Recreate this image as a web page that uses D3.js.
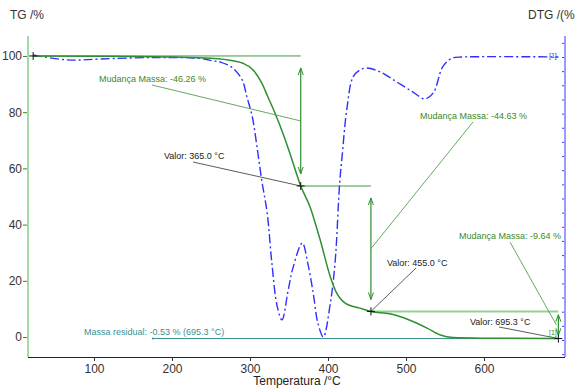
<!DOCTYPE html>
<html>
<head>
<meta charset="utf-8">
<script src="https://cdn.jsdelivr.net/npm/d3@7"></script>
<style>
  body { margin: 0; background: #fff; }
  svg { font-family: "Liberation Sans", Arial, sans-serif; }
</style>
</head>
<body>
<script>
// TG curve (mass %)
var tgTemp = [22, 100, 200, 250, 280, 291, 304, 315, 323, 332, 342, 351, 365, 377, 390, 403, 411, 422, 441, 455, 479, 505, 527, 544, 560, 600, 695.3];
var tgVal  = [100, 99.9, 99.6, 99.2, 98.2, 97.4, 95, 90.4, 85.4, 79.7, 72.6, 65.5, 53.74, 46.3, 34.5, 21.4, 15.7, 12.1, 10.3, 9.11, 8.3, 6, 3.2, 0.7, -0.2, -0.4, -0.53];

// DTG curve (%/min)
var dtgTemp = [22, 56, 76, 108, 176, 236, 253, 262, 278, 290, 296, 303, 309, 315, 322, 328, 335, 341, 349, 355, 367, 374, 381, 387, 394, 403, 409, 415, 418, 424, 432, 441, 450, 467, 488, 509, 524, 535, 547, 559, 573, 695.3];
var dtgVal  = [0.07, -0.08, -0.11, -0.07, -0.02, -0.05, -0.14, -0.18, -0.39, -0.81, -1.41, -2.12, -3.18, -4.35, -5.51, -7.28, -8.83, -9.29, -8.23, -7.46, -6.57, -7.28, -8.34, -9.4, -9.89, -8.69, -7.28, -4.42, -3.53, -1.87, -0.71, -0.46, -0.39, -0.53, -0.88, -1.24, -1.48, -1.27, -0.35, -0.04, 0, 0];

// step evaluation
var stepTemps  = [22, 365, 455, 695.3];
var stepLevels = [100, 53.74, 9.11, -0.53];
var massChanges = ["-46.26", "-44.63", "-9.64"];
var valorTemps = ["365.0", "455.0", "695.3"];
var residual = { value: "-0.53", temp: "695.3", from: 175.6 };

var tgTicks = [0, 20, 40, 60, 80, 100];
var tempTicks = [100, 200, 300, 400, 500, 600];

var W = 585, H = 388;
var svg = d3.select("body").append("svg")
  .attr("width", W)
  .attr("height", H);

var x = d3.scaleLinear().domain([15.4, 703.8]).range([28, 565]);
var y = d3.scaleLinear().domain([-7.1, 107.1]).range([357, 36]);
var yd = d3.scaleLinear().domain([-10, 0]).range([340, 57]);

var green = "#2f8f2f", stepGreen = "#3c9a3c", lightGreen = "#93d193";
var teal = "#3a9090", blue = "#2f2fff";

// axes
var bottom = svg.append("g").attr("transform", "translate(0,357)");
bottom.call(d3.axisBottom(x).tickValues(d3.range(20, 701, 20)).tickSize(2).tickFormat(""));
bottom.call(d3.axisBottom(x).tickValues(tempTicks).tickSize(4).tickFormat(d3.format("d")))
  .call(function(g){ g.select(".domain").attr("d", "M28,0.5H565"); });
bottom.selectAll(".domain").attr("stroke", "#222");
bottom.selectAll("line").attr("stroke", "#333");
bottom.selectAll("text").attr("font-size", 12).attr("fill", "#333");

var left = svg.append("g").attr("transform", "translate(28,0)");
left.call(d3.axisLeft(y).tickValues(d3.range(-5, 106, 10)).tickSize(2).tickFormat(""));
left.call(d3.axisLeft(y).tickValues(tgTicks).tickSize(5).tickFormat(d3.format("d")));
left.selectAll(".domain").remove();
left.selectAll("line").attr("stroke", "#2c8a2c");
left.selectAll("text").attr("font-size", 12).attr("fill", "#333").attr("x", -6);
svg.append("line").attr("x1", 28).attr("x2", 28).attr("y1", 36).attr("y2", 357)
  .attr("stroke", "#a3dba3").attr("stroke-width", 2);

var right = svg.append("g").attr("transform", "translate(565,0)");
right.call(d3.axisLeft(yd).tickValues(d3.range(-10.5, 0.8, 0.5)).tickSize(3).tickFormat(""));
right.selectAll(".domain").remove();
right.selectAll("line").attr("stroke", "#3b3bff");
svg.append("line").attr("x1", 565).attr("x2", 565).attr("y1", 36).attr("y2", 357)
  .attr("stroke", "#9a9aff").attr("stroke-width", 2);

svg.append("text").attr("x", 10).attr("y", 19).attr("font-size", 12).attr("fill", "#333").text("TG /%");
svg.append("text").attr("x", 528).attr("y", 19).attr("font-size", 12).attr("fill", "#333").text("DTG /(%");
svg.append("text").attr("x", 297).attr("y", 385).attr("text-anchor", "middle")
  .attr("font-size", 12).attr("fill", "#222").text("Temperatura /°C");

// residual line
svg.append("line")
  .attr("x1", x(residual.from)).attr("x2", x(stepTemps[3]))
  .attr("y1", y(stepLevels[3])).attr("y2", y(stepLevels[3]))
  .attr("stroke", teal).attr("stroke-width", 1);
svg.append("circle").attr("cx", x(residual.from)).attr("cy", y(stepLevels[3])).attr("r", 1).attr("fill", teal);

// step level lines
var levelLines = [
  { t0: stepTemps[0], t1: stepTemps[1], v: stepLevels[0], c: stepGreen, w: 1 },
  { t0: stepTemps[1], t1: stepTemps[2], v: stepLevels[1], c: stepGreen, w: 1 },
  { t0: stepTemps[2], t1: stepTemps[3], v: stepLevels[2], c: lightGreen, w: 2 }
];
svg.selectAll(".lvl").data(levelLines).enter().append("line")
  .attr("x1", function(d){ return x(d.t0); }).attr("x2", function(d){ return x(d.t1); })
  .attr("y1", function(d){ return y(d.v); }).attr("y2", function(d){ return y(d.v); })
  .attr("stroke", function(d){ return d.c; }).attr("stroke-width", function(d){ return d.w; });

// DTG
var dtgData = dtgTemp.map(function(t, i){ return [t, dtgVal[i]]; });
svg.append("path").datum(dtgData)
  .attr("d", d3.line().x(function(d){ return x(d[0]); }).y(function(d){ return yd(d[1]); }).curve(d3.curveCatmullRom))
  .attr("fill", "none").attr("stroke", blue).attr("stroke-width", 1.4)
  .attr("stroke-dasharray", "9,3,2,3");

// TG
var tgData = tgTemp.map(function(t, i){ return [t, tgVal[i]]; });
svg.append("path").datum(tgData)
  .attr("d", d3.line().x(function(d){ return x(d[0]); }).y(function(d){ return y(d[1]); }).curve(d3.curveMonotoneX))
  .attr("fill", "none").attr("stroke", green).attr("stroke-width", 1.5);

// double arrows for each step
for (var i = 0; i < 3; i++) {
  var ax = x(stepTemps[i + 1]);
  var ya = y(stepLevels[i]), yb = y(stepLevels[i + 1]);
  var inset = Math.min(12, (yb - ya) * 0.12);
  var yTop = ya + inset, yBot = yb - inset;
  svg.append("line").attr("x1", ax).attr("x2", ax).attr("y1", yTop).attr("y2", yBot)
    .attr("stroke", green).attr("stroke-width", 1.2);
  svg.append("path").attr("d", "M" + (ax - 2.5) + "," + (yTop + 7) + "L" + ax + "," + yTop + "L" + (ax + 2.5) + "," + (yTop + 7))
    .attr("fill", "none").attr("stroke", green).attr("stroke-width", 1);
  svg.append("path").attr("d", "M" + (ax - 2.5) + "," + (yBot - 7) + "L" + ax + "," + yBot + "L" + (ax + 2.5) + "," + (yBot - 7))
    .attr("fill", "none").attr("stroke", green).attr("stroke-width", 1);
}

// mass change labels + leaders
var mcPos = [[99, 82, 152, 85], [420, 119, 473, 122], [459, 239, 510, 242]];
massChanges.forEach(function(m, i){
  var p = mcPos[i];
  var mid = (stepLevels[i] + stepLevels[i + 1]) / 2;
  svg.append("line").attr("x1", p[2]).attr("y1", p[3])
    .attr("x2", x(stepTemps[i + 1]) - (i == 2 ? 2 : 0)).attr("y2", y(mid))
    .attr("stroke", "#4fa24f").attr("stroke-width", 0.9);
  svg.append("text").attr("x", p[0]).attr("y", p[1]).attr("font-size", 9)
    .attr("fill", "#3a8a2a").text("Mudança Massa: " + m + " %");
});

// valor labels + leaders
var vPos = [[164, 159, 193, 162], [387, 266, 416, 268], [470, 325, 499, 327]];
valorTemps.forEach(function(v, i){
  var p = vPos[i];
  svg.append("line").attr("x1", p[2]).attr("y1", p[3])
    .attr("x2", x(stepTemps[i + 1])).attr("y2", y(stepLevels[i + 1]))
    .attr("stroke", "#333").attr("stroke-width", 0.8);
  svg.append("text").attr("x", p[0]).attr("y", p[1]).attr("font-size", 9)
    .attr("fill", "#222").text("Valor: " + v + " °C");
});

svg.append("text").attr("x", 84).attr("y", 335).attr("font-size", 9).attr("fill", teal)
  .text("Massa residual: " + residual.value + " % (" + residual.temp + " °C)");

// crosses
stepTemps.forEach(function(t, i){
  var cx = x(t), cy = y(stepLevels[i]);
  svg.append("path").attr("d", "M" + (cx - 4) + "," + cy + "H" + (cx + 4) + "M" + cx + "," + (cy - 4) + "V" + (cy + 4))
    .attr("stroke", "#111").attr("stroke-width", 1);
});

svg.append("text").attr("x", 549).attr("y", 58).attr("font-size", 7).attr("fill", blue).text("[1]");
svg.append("text").attr("x", 549).attr("y", 335).attr("font-size", 7).attr("fill", green).text("[1]");
</script>
</body>
</html>
